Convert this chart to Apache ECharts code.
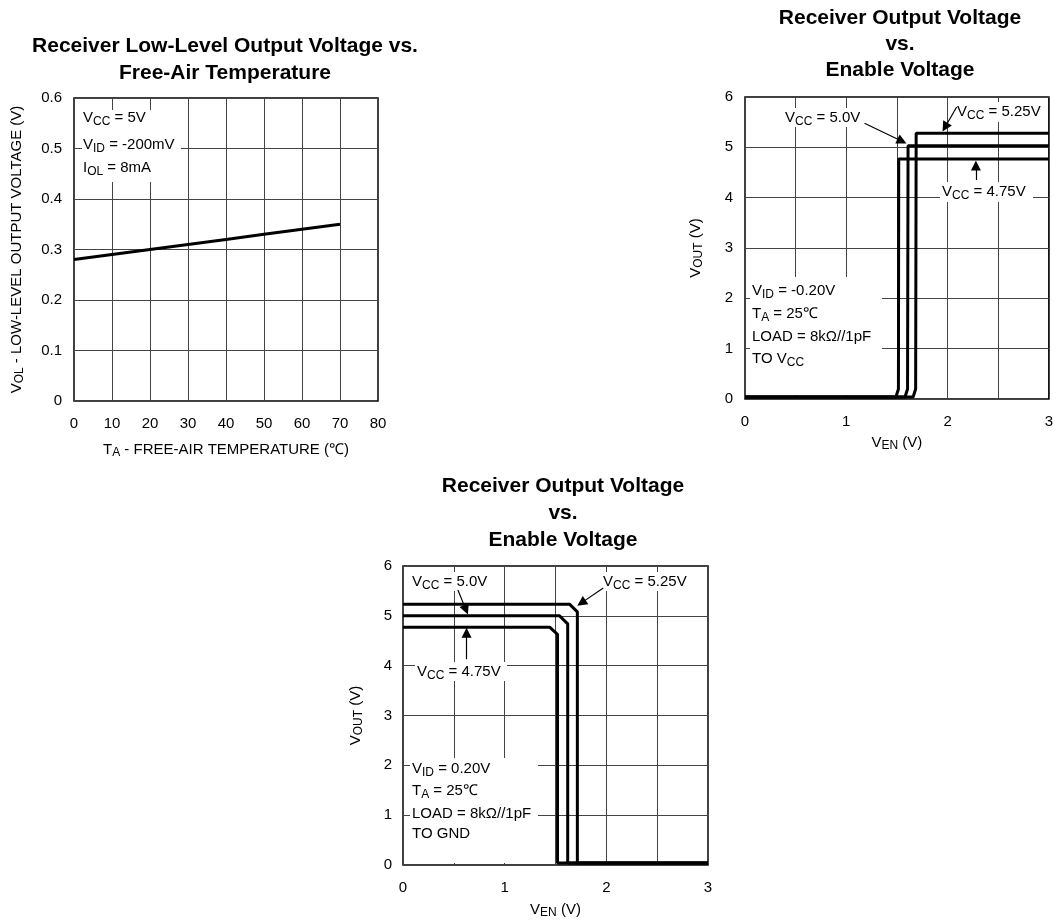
<!DOCTYPE html>
<html><head><meta charset="utf-8">
<script src="https://cdn.jsdelivr.net/npm/echarts@6/dist/echarts.min.js"></script>
<style>html,body{margin:0;padding:0;background:#fff}#c{width:1056px;height:920px}</style>
</head><body><div id="c"></div>
<script>
// ---------- DATA ----------
// Chart 1: Low-level output voltage vs temperature
const tempC = [0, 10, 20, 30, 40, 50, 60, 70];
const volV = [0.28, 0.29, 0.30, 0.31, 0.32, 0.33, 0.34, 0.35];
const tempTickLabels = ['0','10','20','30','40','50','60','70','80'];
const volTickLabels = ['0','0.1','0.2','0.3','0.4','0.5','0.6'];

// Chart 2: Output vs enable voltage (load to VCC) -- [V_EN, V_OUT]
const toVcc475 = [[0,0.04],[1.49,0.04],[1.515,0.2],[1.518,4.77],[3,4.77]];
const toVcc500 = [[0,0.04],[1.58,0.04],[1.605,0.2],[1.61,5.03],[3,5.03]];
const toVcc525 = [[0,0.04],[1.66,0.04],[1.685,0.2],[1.69,5.28],[3,5.28]];

// Chart 3: Output vs enable voltage (load to GND)
const toGnd475 = [[0,4.77],[1.445,4.77],[1.52,4.63],[1.52,0.04],[3,0.04]];
const toGnd500 = [[0,5.0],[1.54,5.0],[1.62,4.84],[1.62,0.04],[3,0.04]];
const toGnd525 = [[0,5.23],[1.64,5.23],[1.715,5.08],[1.715,0.04],[3,0.04]];

const enTickLabels = ['0','1','2','3'];
const outTickLabels = ['0','1','2','3','4','5','6'];

// Annotation arrows (data coords, tail -> head)
const arrTop500 = [[1.18,5.48],[1.55,5.12]];
const arrTop525 = [[2.09,5.80],[1.975,5.40]];
const arrTop475 = [[2.28,4.35],[2.28,4.64]];
const arrBot500 = [[0.54,5.52],[0.62,5.12]];
const arrBot525 = [[1.97,5.56],[1.755,5.26]];
const arrBot475 = [[0.625,4.13],[0.625,4.66]];

// ---------- STYLE HELPERS ----------
const FF = '"Liberation Sans", Arial, Helvetica, sans-serif';
const GRID_LINE = {show: true, lineStyle: {color: '#444', width: 1}};
const RICH_AX = {
  n: {fontSize: 15, fontFamily: FF, color: '#000'},
  s: {fontSize: 12, fontFamily: FF, color: '#000', padding: [7, 0, 0, 0]}
};
const RICH_G = {
  n: {fontSize: 15, fontFamily: FF, fill: '#000'},
  s: {fontSize: 12, fontFamily: FF, fill: '#000', padding: [7, 0, 0, 0]}
};
function rt(s) {
  return ('{n|' + s.replace(/_\{([^}]*)\}/g, '}{s|$1}{n|') + '}').replace(/\{n\|\}/g, '');
}
function label(txt, x, y) {
  return {type: 'text', x: x, y: y, z: 5,
    style: {text: rt(txt), rich: RICH_G, fill: '#000', fontSize: 15, fontFamily: FF,
            align: 'left', verticalAlign: 'middle'}};
}
function box(x, y, w, h) {
  return {type: 'rect', z: 1, shape: {x: x, y: y, width: w, height: h},
          style: {fill: '#fff'}};
}
function xAx(gi, min, max, interval, ticks, name, gap, isEn) {
  return {type: 'value', gridIndex: gi, min: min, max: max, interval: interval,
    axisLine: {show: false}, axisTick: {show: false}, splitLine: GRID_LINE,
    axisLabel: {color: '#000', fontSize: 15, fontFamily: FF, margin: 15,
      formatter: function (v) {
        if (isEn) { return Number.isInteger(v) ? ticks[v] : ''; }
        const i = Math.round((v - min) / interval); return ticks[i] !== undefined ? ticks[i] : '';
      }},
    name: rt(name), nameLocation: 'middle', nameGap: gap,
    nameTextStyle: {rich: RICH_AX, fontSize: 15, fontFamily: FF, color: '#000'}};
}
function yAx(gi, min, max, interval, ticks, name, gap, margin) {
  return {type: 'value', gridIndex: gi, min: min, max: max, interval: interval,
    axisLine: {show: false}, axisTick: {show: false}, splitLine: GRID_LINE,
    axisLabel: {color: '#000', fontSize: 15, fontFamily: FF, margin: margin,
      formatter: function (v) { const i = Math.round((v - min) / interval); return ticks[i] !== undefined ? ticks[i] : ''; }},
    name: rt(name), nameLocation: 'middle', nameGap: gap, nameRotate: 90,
    nameTextStyle: {rich: RICH_AX, fontSize: 15, fontFamily: FF, color: '#000'}};
}
function curve(xi, data) {
  return {type: 'line', xAxisIndex: xi, yAxisIndex: xi, data: data, showSymbol: false,
    symbol: 'none', lineStyle: {color: '#000', width: 3}, z: 3, silent: true, animation: false};
}
function arrows(xi, list) {
  return {type: 'line', xAxisIndex: xi, yAxisIndex: xi, data: [], z: 4, silent: true, animation: false,
    markLine: {silent: true, animation: false, symbol: ['none', 'triangle'], symbolSize: 10,
      label: {show: false}, lineStyle: {color: '#000', width: 1.2, type: 'solid'},
      emphasis: {disabled: true},
      data: list.map(a => [{coord: a[0]}, {coord: a[1]}])}};
}
const TITLE_STYLE = (lh) => ({fontSize: 21, fontWeight: 'bold', fontFamily: FF, color: '#000', lineHeight: lh});

const chart = echarts.init(document.getElementById('c'), null, {renderer: 'canvas'});
chart.setOption({
  backgroundColor: '#fff',
  animation: false,
  textStyle: {fontFamily: FF},
  title: [
    {text: 'Receiver Low-Level Output Voltage vs.\nFree-Air Temperature', left: 225, top: 33, textAlign: 'center', padding: 0, textStyle: TITLE_STYLE(27)},
    {text: 'Receiver Output Voltage\nvs.\nEnable Voltage', left: 900, top: 5, textAlign: 'center', padding: 0, textStyle: TITLE_STYLE(26)},
    {text: 'Receiver Output Voltage\nvs.\nEnable Voltage', left: 563, top: 473, textAlign: 'center', padding: 0, textStyle: TITLE_STYLE(27)}
  ],
  grid: [
    {left: 74, top: 98, width: 304, height: 303, show: true, borderColor: '#000', borderWidth: 1.5, backgroundColor: 'transparent'},
    {left: 745, top: 97, width: 304, height: 302, show: true, borderColor: '#000', borderWidth: 1.5, backgroundColor: 'transparent'},
    {left: 403, top: 566, width: 305, height: 302, show: true, borderColor: '#000', borderWidth: 1.5, backgroundColor: 'transparent'}
  ],
  xAxis: [
    xAx(0, 0, 80, 10, tempTickLabels, 'T_{A} - FREE-AIR TEMPERATURE (℃)', 39, false),
    xAx(1, 0, 3, 0.5, enTickLabels, 'V_{EN} (V)', 34, true),
    xAx(2, 0, 3, 0.5, enTickLabels, 'V_{EN} (V)', 35, true)
  ],
  yAxis: [
    yAx(0, 0, 0.6, 0.1, volTickLabels, 'V_{OL} - LOW-LEVEL OUTPUT VOLTAGE (V)', 48, 12),
    yAx(1, 0, 6, 1, outTickLabels, 'V_{OUT} (V)', 40, 12),
    yAx(2, 0, 6, 1, outTickLabels, 'V_{OUT} (V)', 38, 11)
  ],
  series: [
    curve(0, tempC.map((t, i) => [t, volV[i]])),
    curve(1, toVcc475), curve(1, toVcc500), curve(1, toVcc525),
    curve(2, toGnd475), curve(2, toGnd500), curve(2, toGnd525),
    arrows(1, [arrTop500, arrTop525, arrTop475]),
    arrows(2, [arrBot500, arrBot525, arrBot475])
  ],
  graphic: [
    // chart 1 conditions
    box(82, 110, 99, 72),
    label('V_{CC} = 5V', 83, 118), label('V_{ID} = -200mV', 83, 145), label('I_{OL} = 8mA', 83, 168),
    // chart 2 labels
    box(783, 108, 83, 19), label('V_{CC} = 5.0V', 785, 118),
    box(955, 102, 90, 20), label('V_{CC} = 5.25V', 957, 112),
    box(940, 182, 93, 20), label('V_{CC} = 4.75V', 942, 192),
    box(750, 277, 132, 118),
    label('V_{ID} = -0.20V', 752, 291), label('T_{A} = 25℃', 752, 314),
    label('LOAD = 8kΩ//1pF', 752, 337), label('TO V_{CC}', 752, 359),
    // chart 3 labels
    box(410, 572, 82, 19), label('V_{CC} = 5.0V', 412, 582),
    box(601, 572, 92, 19), label('V_{CC} = 5.25V', 603, 582),
    box(415, 662, 92, 19), label('V_{CC} = 4.75V', 417, 672),
    box(410, 758, 128, 105),
    label('V_{ID} = 0.20V', 412, 769), label('T_{A} = 25℃', 412, 791),
    label('LOAD = 8kΩ//1pF', 412, 814), label('TO GND', 412, 834)
  ]
});
</script>
</body></html>
